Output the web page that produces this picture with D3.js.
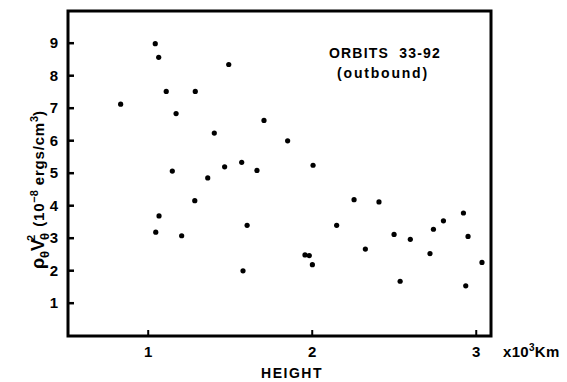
<!DOCTYPE html>
<html><head><meta charset="utf-8">
<script src="https://cdn.jsdelivr.net/npm/d3@7"></script>
<style>body{margin:0;background:#fff}svg{display:block}</style>
</head><body>
<script>
const heights = [0.835,1.046,1.067,1.113,1.29,1.173,1.15,1.049,1.069,1.207,1.287,1.494,1.709,1.406,1.853,1.469,1.573,1.666,2.008,1.366,1.606,1.581,1.959,1.985,2.004,2.152,2.258,2.41,2.327,2.502,2.601,2.539,2.742,2.803,2.925,2.953,2.721,2.939,3.038];
const energy  = [7.11,8.97,8.55,7.50,7.50,6.82,5.05,3.17,3.67,3.06,4.14,8.33,6.61,6.22,5.98,5.18,5.32,5.07,5.23,4.84,3.38,1.98,2.47,2.45,2.17,3.38,4.17,4.10,2.65,3.10,2.95,1.66,3.26,3.52,3.76,3.04,2.51,1.52,2.24];
const xTicks = [1,2,3];
const yTicks = [1,2,3,4,5,6,7,8,9];

const W=567,H=382;
const svg=d3.select("body").append("svg").attr("width",W).attr("height",H);
const L=68,R=491,T=11,B=336;
const x=d3.scaleLinear().domain([0.514,3.093]).range([L,R]);
const y=d3.scaleLinear().domain([0,10]).range([335.2,10.2]);
const font="'Liberation Sans', Arial, sans-serif";

// frame
svg.append("rect").attr("x",L).attr("y",T).attr("width",R-L).attr("height",B-T)
  .attr("fill","none").attr("stroke","#000").attr("stroke-width",3);

// axes (ticks inward)
const yAxis=d3.axisLeft(y).tickValues(yTicks).tickSizeInner(-6).tickSizeOuter(0).tickPadding(10).tickFormat(d3.format("d"));
const gy=svg.append("g").attr("transform",`translate(${L},0)`).call(yAxis);
gy.select(".domain").remove();
gy.selectAll("line").attr("stroke","#000").attr("stroke-width",2.5);
gy.selectAll("text").attr("font-family",font).attr("font-weight","bold").attr("font-size",15).attr("fill","#000");

const xAxis=d3.axisBottom(x).tickValues(xTicks).tickSizeInner(-6).tickSizeOuter(0).tickPadding(10).tickFormat(d3.format("d"));
const gx=svg.append("g").attr("transform",`translate(0,${B})`).call(xAxis);
gx.select(".domain").remove();
gx.selectAll("line").attr("stroke","#000").attr("stroke-width",2);
gx.selectAll("text").attr("font-family",font).attr("font-weight","bold").attr("font-size",15).attr("fill","#000");

// points
svg.append("g").selectAll("circle").data(heights).join("circle")
  .attr("cx",(d)=>x(d)).attr("cy",(d,i)=>y(energy[i])).attr("r",2.6).attr("fill","#000");

// annotations
svg.append("text").attr("x",385).attr("y",58).attr("text-anchor","middle").attr("xml:space","preserve")
  .attr("font-family",font).attr("font-weight","bold").attr("font-size",14).attr("letter-spacing",1.2).text("ORBITS  33-92");
svg.append("text").attr("x",383).attr("y",78).attr("text-anchor","middle")
  .attr("font-family",font).attr("font-weight","bold").attr("font-size",14).attr("letter-spacing",1.8).text("(outbound)");

svg.append("text").attr("x",292).attr("y",378).attr("text-anchor","middle")
  .attr("font-family",font).attr("font-weight","bold").attr("font-size",14).attr("letter-spacing",1.5).text("HEIGHT");

const u=svg.append("text").attr("x",503).attr("y",357)
  .attr("font-family",font).attr("font-weight","bold").attr("font-size",15).attr("letter-spacing",0.3);
u.append("tspan").text("x10");
u.append("tspan").attr("dy",-6).attr("font-size",10).text("3");
u.append("tspan").attr("dy",6).text("Km");

// y label
const yl=svg.append("text").attr("transform","translate(44,190) rotate(-90)").attr("text-anchor","middle")
  .attr("font-family",font).attr("font-weight","bold").attr("font-size",18);
yl.append("tspan").text("ρ");
yl.append("tspan").attr("dy",5).attr("font-size",13).text("θ");
yl.append("tspan").attr("dy",-5).text("V");
yl.append("tspan").attr("dy",5).attr("font-size",13).attr("dx",-1).text("θ");
yl.append("tspan").attr("dy",-14).attr("dx",-8).attr("font-size",11).text("2");
yl.append("tspan").attr("dy",9).attr("dx",8).attr("font-size",15).attr("letter-spacing",0.8).text("(10");
yl.append("tspan").attr("dy",-6).attr("font-size",11).text("−8");
yl.append("tspan").attr("dy",6).attr("font-size",15).attr("letter-spacing",0.8).text(" ergs/cm");
yl.append("tspan").attr("dy",-6).attr("font-size",11).text("3");
yl.append("tspan").attr("dy",6).attr("font-size",15).text(")");
</script>
</body></html>
